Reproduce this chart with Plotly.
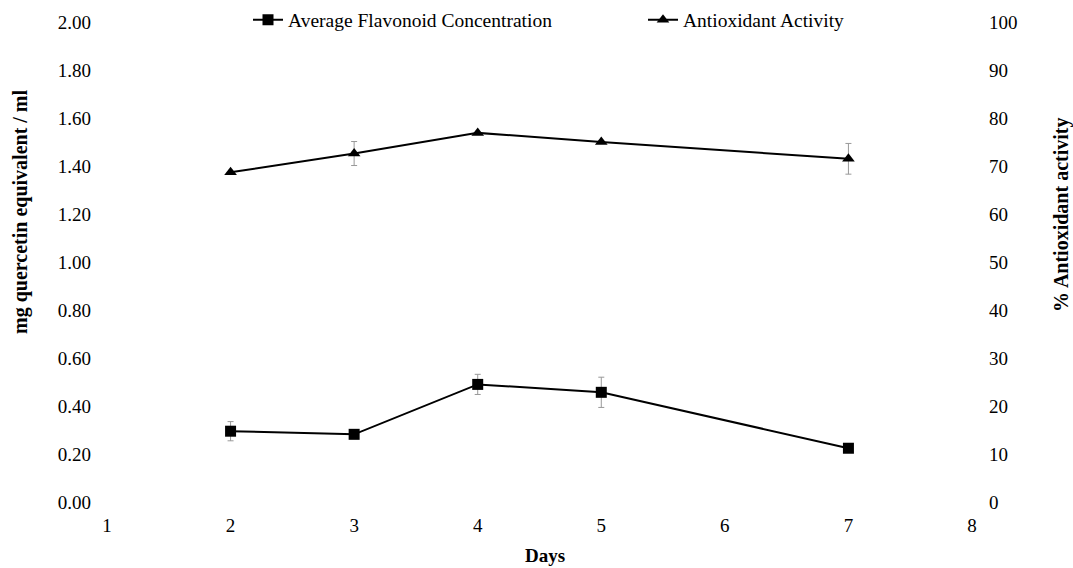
import plotly.graph_objects as go

days = [2, 3, 4, 5, 7]
flavonoid = [0.295, 0.282, 0.490, 0.457, 0.224]
flavonoid_err = [0.040, 0.0, 0.042, 0.063, 0.0]
antiox = [68.7, 72.6, 76.9, 75.0, 71.5]
antiox_err = [0.0, 2.5, 0.0, 0.0, 3.2]

y_left_ticks = [0, 0.2, 0.4, 0.6, 0.8, 1.0, 1.2, 1.4, 1.6, 1.8, 2.0]
y_right_ticks = [0, 10, 20, 30, 40, 50, 60, 70, 80, 90, 100]
x_ticks = [1, 2, 3, 4, 5, 6, 7, 8]

FONT = "Liberation Serif"
L, R, T, B = 107, 101, 22, 66
W, H = 1073, 568
PW = W - L - R
PH = H - T - B

fig = go.Figure()
fig.add_trace(go.Scatter(
    x=days, y=flavonoid, name="Average Flavonoid Concentration",
    mode="lines+markers",
    line=dict(color="black", width=2),
    marker=dict(symbol="square", size=11, color="black"),
    error_y=dict(type="data", array=flavonoid_err, visible=True,
                 color="#999999", thickness=1, width=3),
    yaxis="y",
))
fig.add_trace(go.Scatter(
    x=days, y=antiox, name="Antioxidant Activity",
    mode="lines+markers",
    line=dict(color="black", width=2),
    marker=dict(symbol="triangle-up", size=11, color="black"),
    error_y=dict(type="data", array=antiox_err, visible=True,
                 color="#999999", thickness=1, width=3),
    yaxis="y2",
))

fig.update_layout(
    width=W, height=H,
    margin=dict(l=L, r=R, t=T, b=B, autoexpand=False),
    plot_bgcolor="white", paper_bgcolor="white",
    font=dict(family=FONT, size=19, color="black"),
    showlegend=True,
    legend=dict(orientation="h", x=(248 - L) / PW, xanchor="left",
                y=1.0 + 2 / PH, yanchor="middle",
                font=dict(family=FONT, size=19.5), entrywidth=350, itemwidth=30,
                bgcolor="rgba(0,0,0,0)"),
    xaxis=dict(range=[1, 8], tickvals=x_ticks, showgrid=False, zeroline=False,
               showline=False, ticks="", ticklabelstandoff=10),
    yaxis=dict(range=[0, 2], tickvals=y_left_ticks, tickformat=".2f", showgrid=False,
               zeroline=False, showline=False, ticks="", ticklabelstandoff=15),
    yaxis2=dict(range=[0, 100], tickvals=y_right_ticks, overlaying="y", side="right",
                showgrid=False, zeroline=False, showline=False, ticks="", ticklabelstandoff=16),
    annotations=[
        dict(text="<b>Days</b>", xref="paper", yref="paper",
             x=(545 - L) / PW, y=-(555 - (T + PH)) / PH, xanchor="center", yanchor="middle",
             showarrow=False, font=dict(family=FONT, size=19)),
        dict(text="<b>mg quercetin equivalent / ml</b>", xref="paper", yref="paper",
             x=(20 - L) / PW, y=((T + PH) - 212) / PH, xanchor="center", yanchor="middle",
             textangle=-90, showarrow=False, font=dict(family=FONT, size=20)),
        dict(text="<b>% Antioxidant activity</b>", xref="paper", yref="paper",
             x=(1061 - L) / PW, y=((T + PH) - 215) / PH, xanchor="center", yanchor="middle",
             textangle=-90, showarrow=False, font=dict(family=FONT, size=20)),
    ],
)

fig.write_html("out.html")
